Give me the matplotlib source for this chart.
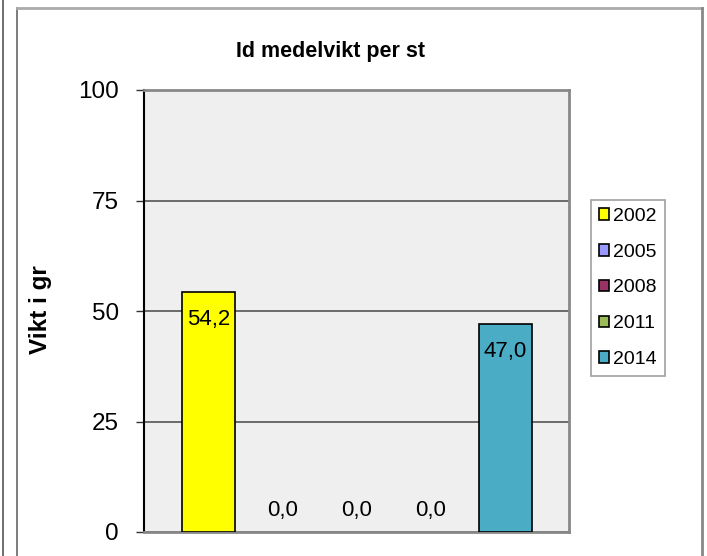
import matplotlib
matplotlib.use("Agg")
import matplotlib.pyplot as plt
from matplotlib.patches import Rectangle
from matplotlib.lines import Line2D

plt.rcParams['font.family'] = ['Liberation Sans', 'DejaVu Sans']

series = ["2002", "2005", "2008", "2011", "2014"]
values = [54.2, 0.0, 0.0, 0.0, 47.0]
colors = ["#FFFF00", "#9999FF", "#993366", "#9BBB59", "#4BACC6"]
yticks = [0, 25, 50, 75, 100]
title = "Id medelvikt per st"
ylabel = "Vikt i gr"

W, H = 707, 556
fig = plt.figure(figsize=(W / 100, H / 100), dpi=100)

# outer frames
fig.add_artist(Line2D([3 / W, 3 / W], [0, 1], color="#555555", lw=1.2))
fig.add_artist(Line2D([17 / W, 17 / W], [0, 1 - 8 / H], color="#666666", lw=1.2))
fig.add_artist(Line2D([17 / W, 702 / W], [1 - 8 / H, 1 - 8 / H], color="#AAAAAA", lw=2))
fig.add_artist(Line2D([702 / W, 702 / W], [0, 1 - 8 / H], color="#888888", lw=2))

left, right, top, bottom = 144, 569, 90, 532
ax = fig.add_axes([left / W, 1 - bottom / H, (right - left) / W, (bottom - top) / H])
ax.set_facecolor("#EFEFEF")

x = list(range(len(series)))
lws = [1.2 if v > 0 else 0 for v in values]
ax.bar(x, values, width=0.72, color=colors, edgecolor="black", linewidth=lws, zorder=3)
for xi, v in zip(x, values):
    lab = f"{v:.1f}".replace(".", ",")
    if v > 5:
        ax.annotate(lab, (xi, v), xytext=(0, -12), textcoords="offset points",
                    ha="center", va="top", fontsize=16, zorder=4)
    else:
        ax.annotate(lab, (xi, v), xytext=(0, 8), textcoords="offset points",
                    ha="center", va="bottom", fontsize=16, zorder=4)

ax.set_xlim(-0.87, 4.86)
ax.set_ylim(0, 100)
ax.set_yticks(yticks)
ax.set_yticklabels([str(t) for t in yticks], fontsize=17.5)
ax.set_xticks([])
ax.yaxis.grid(True, color="#555555", lw=1.2, zorder=1)
ax.tick_params(axis="y", length=6, width=1, color="#333333", pad=12)
for s in ["top", "right", "bottom"]:
    ax.spines[s].set_color("#888888")
    ax.spines[s].set_linewidth(2)
ax.spines["left"].set_color("black")
ax.spines["left"].set_linewidth(1.5)

fig.text(330 / W, 1 - 52 / H, title, ha="center", va="center", fontsize=15.5, fontweight="bold")
fig.text(40 / W, 1 - 310 / H, ylabel, ha="center", va="center", rotation=90, fontsize=17.5, fontweight="bold")

handles = [Rectangle((0, 0), 1, 1, facecolor=c, edgecolor="black", linewidth=1.2) for c in colors]
leg = fig.legend(handles, series, loc="upper left", bbox_to_anchor=(591 / W, 1 - 200 / H),
                 fontsize=14, frameon=True, fancybox=False, handlelength=0.55, handleheight=0.55,
                 handletextpad=0.2, labelspacing=0.97, borderpad=0.4, borderaxespad=0)
leg.get_frame().set_edgecolor("#888888")
leg.get_frame().set_linewidth(1.2)

fig.savefig("out.png", dpi=100)
